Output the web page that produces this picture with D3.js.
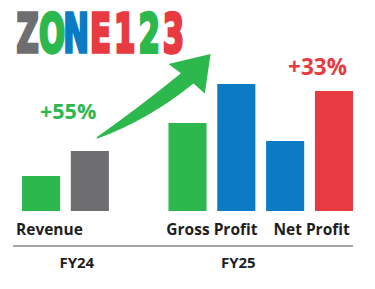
<!DOCTYPE html>
<html>
<head>
<meta charset="utf-8">
<script src="https://cdn.jsdelivr.net/npm/d3@7"></script>
<style>
  html, body { margin: 0; padding: 0; background: #fff; }
  svg { display: block; }
</style>
</head>
<body>
<div id="chart"></div>
<script>
var width = 375;
var height = 289;

// data
var groups = ["Revenue", "Gross Profit", "Net Profit"];
var periods = ["FY24", "FY25"];
var firstBar = [35, 88, 70];    // left bar of each group
var secondBar = [60, 127, 120]; // right bar of each group
var changes = ["+55%", "+33%"];
var titleChars = ["Z", "O", "N", "E", "1", "2", "3"];

var green = "#2db84d", gray = "#6e6e70", blue = "#0b7cc4", red = "#e83b41";
var barColors = [[green, gray], [green, blue], [blue, red]];
var titleColors = [gray, green, blue, red, red, green, red];

var svg = d3.select("#chart").append("svg")
  .attr("width", width)
  .attr("height", height);

svg.append("rect").attr("width", width).attr("height", height).attr("fill", "#fff");

// bars: two per group, one empty slot after revenue
var bars = [];
groups.forEach(function(g, i){
  bars.push({key: g + "|0", group: i, value: firstBar[i], color: barColors[i][0]});
  bars.push({key: g + "|1", group: i, value: secondBar[i], color: barColors[i][1]});
});
var keys = bars.map(function(d){ return d.key; });
keys.splice(2, 0, "gap");

var x = d3.scaleBand().domain(keys).range([22, 353]).paddingInner(0.22).paddingOuter(0);
var y = d3.scaleLinear().domain([0, 140]).range([211, 71]);
var bw = x.bandwidth();

svg.selectAll("rect.bar").data(bars).enter().append("rect")
  .attr("class", "bar")
  .attr("x", function(d){ return x(d.key); })
  .attr("y", function(d){ return y(d.value); })
  .attr("width", bw)
  .attr("height", function(d){ return y(0) - y(d.value); })
  .attr("fill", function(d){ return d.color; });

// group labels
function groupCenter(i){
  return (x(groups[i] + "|0") + x(groups[i] + "|1") + bw) / 2;
}
svg.selectAll("text.group").data(groups).enter().append("text")
  .attr("class", "group")
  .attr("x", function(d, i){ return i === 0 ? x(d + "|0") - 6 : groupCenter(i) + (i === 2 ? 2 : 0); })
  .attr("y", 235)
  .attr("text-anchor", function(d, i){ return i === 0 ? "start" : "middle"; })
  .style("font-family", "'Open Sans', sans-serif")
  .style("font-weight", 700)
  .style("font-size", "15.5px")
  .style("fill", "#1e1e1e")
  .text(function(d){ return d; });

// axis rule
svg.append("line")
  .attr("x1", 13).attr("x2", 353)
  .attr("y1", 246).attr("y2", 246)
  .style("stroke", "#8a8a8a")
  .style("stroke-width", 1.5);

// period labels
var periodX = [x(groups[0] + "|1") + 6, x(groups[1] + "|1") + bw / 2 + 2];
svg.selectAll("text.period").data(periods).enter().append("text")
  .attr("class", "period")
  .attr("x", function(d, i){ return periodX[i]; })
  .attr("y", 268)
  .attr("text-anchor", "middle")
  .style("font-family", "'Open Sans', sans-serif")
  .style("font-weight", 700)
  .style("font-size", "15px")
  .style("fill", "#1e1e1e")
  .text(function(d){ return d; });

// title: heavy condensed letters, one per slot
var tx = d3.scaleBand().domain(d3.range(titleChars.length)).range([16, 185]).paddingInner(0.04);
svg.selectAll("text.title").data(titleChars).enter().append("text")
  .attr("class", "title")
  .attr("text-anchor", "middle")
  .attr("transform", function(d, i){
    return "translate(" + (tx(i) + tx.bandwidth() / 2) + ",52) scale(0.58,1)";
  })
  .style("font-family", "'DejaVu Sans', sans-serif")
  .style("font-weight", 700)
  .style("font-size", "53px")
  .style("fill", function(d, i){ return titleColors[i]; })
  .style("stroke", function(d, i){ return titleColors[i]; })
  .style("stroke-width", 3.4)
  .style("stroke-linejoin", "miter")
  .text(function(d){ return d; });

// change labels
svg.append("text")
  .attr("x", x(groups[0] + "|0") + 18)
  .attr("y", 119)
  .style("font-family", "'Open Sans', sans-serif")
  .style("font-weight", 700)
  .style("font-size", "21.5px")
  .style("fill", green)
  .text(changes[0]);

svg.append("text")
  .attr("x", groupCenter(2) + 8)
  .attr("y", 74.5)
  .attr("text-anchor", "middle")
  .style("font-family", "'Open Sans', sans-serif")
  .style("font-weight", 700)
  .style("font-size", "22.5px")
  .style("fill", red)
  .text(changes[1]);

// growth arrow from the revenue bar up past the gross profit bar
var tail = [x(groups[0] + "|1") + bw * 0.68, y(secondBar[0]) - 13];
var tip = [x(groups[1] + "|0") + bw + 4, y(secondBar[1]) - 30];
var dx = tip[0] - tail[0], dy = tip[1] - tail[1];
function pt(u, v){ return [tail[0] + u * dx, tail[1] + v * dy]; }
var a = {
  t1: pt(0, -0.01), c1: pt(0.46, 0.22), s1: pt(0.85, 0.65),
  r: pt(0.95, 0.53), p: pt(1, 1), l: pt(0.63, 0.88),
  s2: pt(0.74, 0.77), c2: pt(0.36, 0.35), t2: pt(0, 0.01)
};
var arrowPath = d3.path();
arrowPath.moveTo(a.t1[0], a.t1[1]);
arrowPath.quadraticCurveTo(a.c1[0], a.c1[1], a.s1[0], a.s1[1]);
arrowPath.lineTo(a.r[0], a.r[1]);
arrowPath.lineTo(a.p[0], a.p[1]);
arrowPath.lineTo(a.l[0], a.l[1]);
arrowPath.lineTo(a.s2[0], a.s2[1]);
arrowPath.quadraticCurveTo(a.c2[0], a.c2[1], a.t2[0], a.t2[1]);
arrowPath.closePath();

svg.append("path")
  .attr("d", arrowPath.toString())
  .style("fill", green);
</script>
</body>
</html>
